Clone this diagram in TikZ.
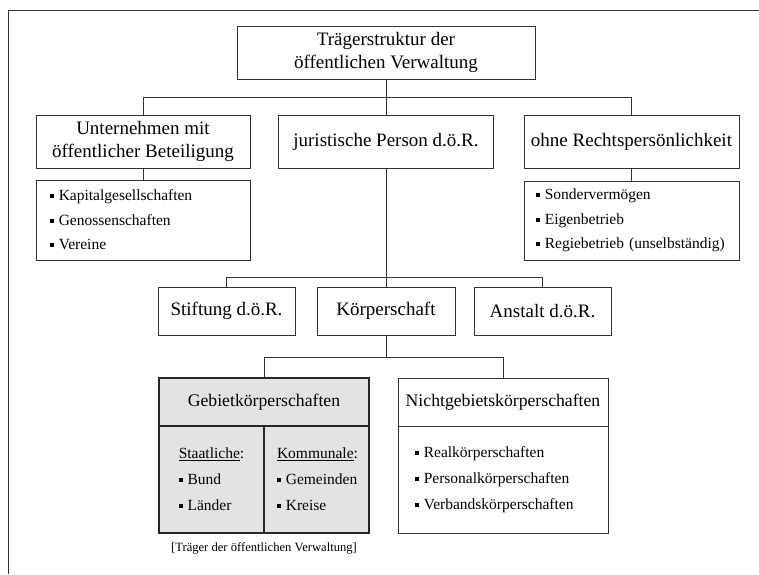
\documentclass[tikz,border=0pt]{standalone}
\usepackage{fontspec}
\setmainfont{Liberation Serif}
\newcommand\sqbul{\rule[2.6pt]{3.8pt}{3.8pt}\hspace{5pt}}

\begin{document}
\begin{tikzpicture}[x=1pt, y=-1pt,
  every node/.style = {shape=rectangle, align=center, inner sep=0pt},
  lines/.style = {draw=black!80, line width=0.8pt}]
    \tikzstyle{box}=[draw=black!80, line width=0.8pt, minimum height=53pt,
      font=\fontsize{19}{22.5}\selectfont]
    \tikzstyle{small box}=[box, minimum height=48pt]
    \tikzstyle{list}=[draw=black!80, line width=0.8pt, align=left,
      font=\fontsize{15.5}{24.5}\selectfont]
    \tikzstyle{head}=[draw=black!85, line width=1.3pt, minimum width=210pt,
      minimum height=48pt, font=\fontsize{17.7}{21}\selectfont]
    \tikzstyle{gray}=[fill=black!11]
  \useasboundingbox (0,0) rectangle (759,574);
  % frame
  \draw[lines] (8,574) -- (8,10) -- (759,10);

  \node[box, minimum width=298pt] (top) at (386,52.5)
    {Trägerstruktur der\\öffentlichen Verwaltung};
  \node[box, minimum width=214pt] (unt) at (143,141.5)
    {Unternehmen mit\\öffentlicher Beteiligung};
  \node[box, minimum width=215pt] (jur) at (386,141.5)
    {juristische Person d.ö.R.};
  \node[box, minimum width=215pt] (ohne) at (631.5,141.5)
    {ohne Rechtspersönlichkeit};

  \node[list, minimum height=80pt, inner xsep=14pt, text width=186pt]
    (untlist) at (143,220)
    {\sqbul Kapitalgesellschaften\\\sqbul Genossenschaften\\\sqbul Vereine};
  \node[list, minimum height=79pt, inner xsep=12pt, text width=191pt]
    (ohnelist) at (631.5,220.5)
    {\sqbul Sondervermögen\\\sqbul Eigenbetrieb\\\sqbul Regiebetrieb (unselbständig)};

  \node[small box, minimum width=137pt] (stift) at (226.5,311) {Stiftung d.ö.R.};
  \node[small box, minimum width=138pt] (koerp) at (386,311) {Körperschaft};
  \node[small box, minimum width=137pt] (anst) at (542.5,311) {Anstalt d.ö.R.};

  % Gebietkoerperschaften
  \node[head, gray] (gebhead) at (264,402) {Gebietkörperschaften};
  \node[head, gray, minimum height=107pt] (gebbody) at (264,479.5) {};
  \draw[draw=black!85, line width=1.1pt] (gebbody.north) -- (gebbody.south);
  \node[align=left, font=\fontsize{15.5}{26}\selectfont] (staat) at (211.5,479)
    {\underline{Staatliche}:\\\sqbul Bund\\\sqbul Länder};
  \node[align=left, font=\fontsize{15.5}{26}\selectfont] (komm) at (317.5,479)
    {\underline{Kommunale}:\\\sqbul Gemeinden\\\sqbul Kreise};
  \node[font=\fontsize{12.6}{14}\selectfont] (caption) at (264,548)
    {[Träger der öffentlichen Verwaltung]};

  % Nichtgebietskoerperschaften
  \node[head, line width=0.8pt, draw=black!80] (nghead) at (503,402)
    {Nichtgebietskörperschaften};
  \node[list, minimum height=107pt, inner xsep=17pt, text width=176pt,
    font=\fontsize{15.5}{26}\selectfont]
    (ngbody) at (503,479.5)
    {\sqbul Realkörperschaften\\\sqbul Personalkörperschaften\\\sqbul Verbandskörperschaften};

  % connectors
  \coordinate (bar1) at (386,97);
  \coordinate (bar2) at (386,277);
  \coordinate (bar3) at (386,357);
  \draw[lines] (top) -- (jur);
  \draw[lines] (unt.north) |- (ohne.north |- bar1) -- (ohne.north);
  \draw[lines] (unt) -- (untlist);
  \draw[lines] (ohne) -- (ohnelist);
  \draw[lines] (jur) -- (koerp);
  \draw[lines] (stift.north) |- (anst.north |- bar2) -- (anst.north);
  \draw[lines] (koerp.south) -- (bar3);
  \draw[lines] (gebhead.north) |- (nghead.north |- bar3) -- (nghead.north);
\end{tikzpicture}
\end{document}
